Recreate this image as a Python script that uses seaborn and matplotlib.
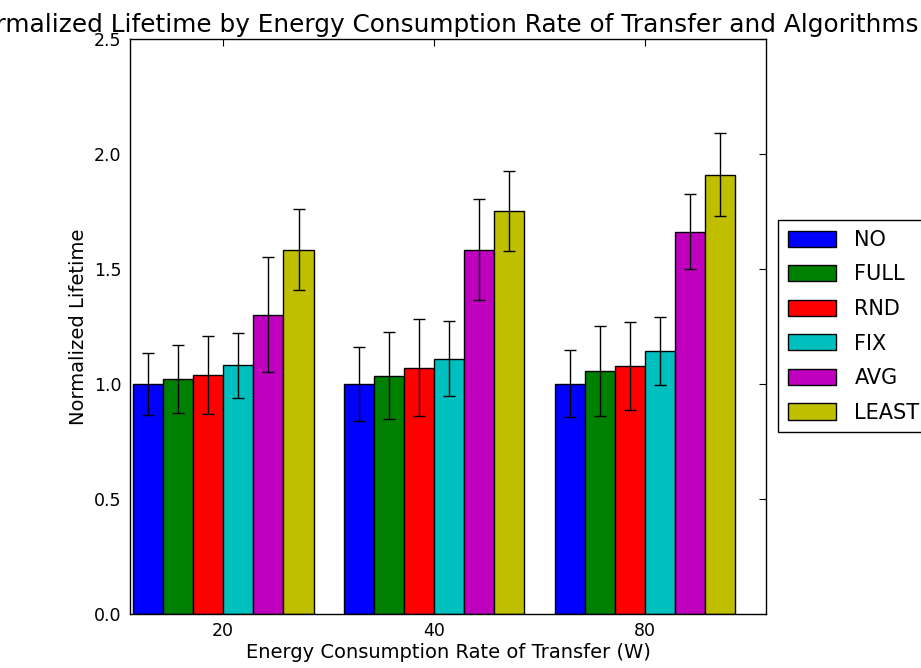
import seaborn as sns
import matplotlib.pyplot as plt
import pandas as pd
import numpy as np

# values
rates = ["20", "40", "80"]
algorithms = ["NO", "FULL", "RND", "FIX", "AVG", "LEAST"]
colors = ["#0000ff", "#008000", "#ff0000", "#00bfbf", "#bf00bf", "#bfbf00"]

lifetime = {
    "NO":    [1.00, 1.00, 1.00],
    "FULL":  [1.02, 1.035, 1.057],
    "RND":   [1.04, 1.07, 1.078],
    "FIX":   [1.08, 1.11, 1.143],
    "AVG":   [1.30, 1.583, 1.66],
    "LEAST": [1.583, 1.752, 1.909],
}
errors = {
    "NO":    [0.135, 0.16, 0.145],
    "FULL":  [0.147, 0.19, 0.196],
    "RND":   [0.17, 0.21, 0.19],
    "FIX":   [0.14, 0.165, 0.148],
    "AVG":   [0.25, 0.22, 0.163],
    "LEAST": [0.175, 0.175, 0.18],
}

rows = []
for alg in algorithms:
    for i, r in enumerate(rates):
        rows.append({"rate": r, "alg": alg, "life": lifetime[alg][i], "err": errors[alg][i]})
df = pd.DataFrame(rows)

sns.set_style("white")
plt.rcParams["font.family"] = ["DejaVu Sans"]
plt.rcParams["text.color"] = "black"
plt.rcParams["axes.labelcolor"] = "black"
plt.rcParams["xtick.color"] = "black"
plt.rcParams["ytick.color"] = "black"

fig = plt.figure(figsize=(9.21, 6.68), dpi=100)
ax = fig.add_axes([0.141, 0.081, 0.691, 0.861])

sns.barplot(data=df, x="rate", y="life", hue="alg", order=rates, hue_order=algorithms,
            palette=colors, saturation=1, width=0.857, edgecolor="black", linewidth=1,
            errorbar=None, ax=ax)

# error bars on top of each bar, taken from the bar patches
bars = [p for p in ax.patches if p.get_height() > 0][:len(df)]
for alg_i, alg in enumerate(algorithms):
    for i in range(len(rates)):
        p = bars[alg_i * len(rates) + i]
        ax.errorbar(p.get_x() + p.get_width() / 2, p.get_height(), yerr=errors[alg][i],
                    fmt="none", ecolor="black", elinewidth=1, capsize=4, capthick=1)

ax.set_xlim(-0.443, 2.576)
ax.set_ylim(0, 2.5)
ax.set_yticks([0.0, 0.5, 1.0, 1.5, 2.0, 2.5])
ax.set_yticklabels(["0.0", "0.5", "1.0", "1.5", "2.0", "2.5"])
ax.tick_params(direction="in", top=True, right=True, labelsize=12.5, length=5, pad=6)
for s in ax.spines.values():
    s.set_color("black")
    s.set_linewidth(1)

ax.set_title("Normalized Lifetime by Energy Consumption Rate of Transfer and Algorithms",
             fontsize=17.8, pad=5, x=0.488)
ax.set_xlabel("Energy Consumption Rate of Transfer (W)", fontsize=14, labelpad=2)
ax.set_ylabel("Normalized Lifetime", fontsize=14, labelpad=4)

ax.legend(loc="center left", bbox_to_anchor=(1.019, 0.5), borderaxespad=0, fontsize=15,
          frameon=True, fancybox=False, edgecolor="black", framealpha=1, handlelength=2.3,
          handleheight=0.82, handletextpad=0.9, borderpad=0.45, labelspacing=0.7)

plt.savefig("out.png", dpi=100)
